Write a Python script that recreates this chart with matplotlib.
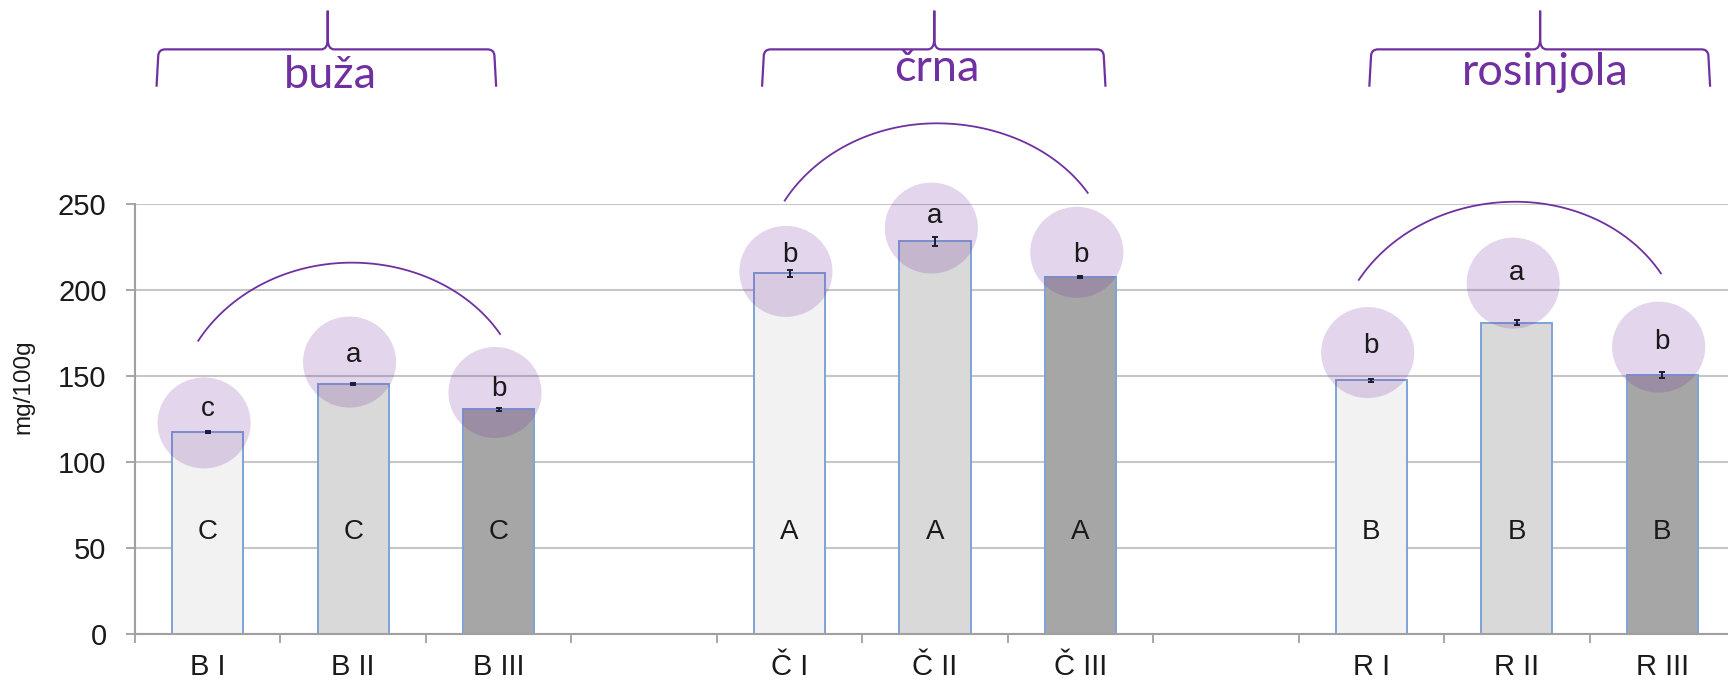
import numpy as np
import matplotlib
matplotlib.use("Agg")
import matplotlib.pyplot as plt
from matplotlib.patches import Ellipse, PathPatch
from matplotlib.path import Path

plt.rcParams["font.family"] = ["Liberation Sans", "DejaVu Sans"]

# --- data ---
groups = ["buža", "črna", "rosinjola"]
group_letters = ["C", "A", "B"]
labels = [["B I", "B II", "B III"], ["Č I", "Č II", "Č III"], ["R I", "R II", "R III"]]
values = [[117.6, 145.2, 130.6], [209.7, 228.3, 207.7], [147.5, 181.0, 150.6]]
errors = [[0.5, 0.6, 1.0], [2.0, 2.6, 0.6], [1.0, 1.5, 1.5]]
sample_letters = [["c", "a", "b"], ["b", "a", "b"], ["b", "a", "b"]]
bar_colors = ["#f2f2f2", "#d9d9d9", "#a6a6a6"]

# annotation geometry (data coords)
circle_y = [[122.7, 158.1, 140.4], [210.8, 236.0, 221.9], [163.6, 204.0, 166.8]]
letter_y = [[126.9, 158.3, 138.4], [216.5, 238.8, 216.5], [163.5, 205.8, 165.5]]
arcs = [((-0.065, 170.5), (0.99, 215.9), (2.01, 174.4)),
        ((3.967, 252.0), (5.012, 296.9), (6.05, 256.5)),
        ((7.914, 205.9), (8.99, 251.3), (9.99, 209.7))]
braces = [(-0.352, 0.825, 1.983), (3.811, 4.995, 6.172), (7.986, 9.16, 10.329)]
brace_text = [(0.845, 317.7), (5.014, 321.5), (9.197, 319.2)]

PURPLE = "#7030A0"

fig = plt.figure(figsize=(17.28, 6.82), dpi=100)
ax = fig.add_axes([135 / 1728, 48 / 682, 1600 / 1728, 430 / 682])

x_pos, x_lab = [], []
for g, labs in enumerate(labels):
    for j, lab in enumerate(labs):
        x = g * 4 + j
        x_pos.append(x)
        x_lab.append(lab)
        ax.bar(x, values[g][j], width=0.49, color=bar_colors[j],
               edgecolor="#7ea3d6", linewidth=1.4, zorder=2)
        ax.errorbar(x, values[g][j], yerr=errors[g][j], fmt="none",
                    ecolor="#1c1c30", elinewidth=1.4, capsize=2.5, capthick=1.4, zorder=5)
        ax.add_patch(Ellipse((x - 0.025, circle_y[g][j]), 0.64, 52.9, facecolor=PURPLE,
                             alpha=0.2, edgecolor="none", zorder=4, clip_on=False))
        ax.text(x, letter_y[g][j], sample_letters[g][j], ha="center", va="baseline",
                fontsize=20, color="#1a1a1a", zorder=6)
        ax.text(x, 55.5, group_letters[g], ha="center", va="baseline",
                fontsize=20, color="#1a1a1a", zorder=6)

# arcs over each group
for (lx, ly), (px, py), (rx, ry) in arcs:
    t = np.radians(np.linspace(150, 90, 60))
    a, b = (px - lx) / np.cos(np.radians(30)), 2 * (py - ly)
    xs = list(px + a * np.cos(t))
    ys = list(py - b + b * np.sin(t))
    t = np.radians(np.linspace(90, 30, 60))
    a, b = (rx - px) / np.cos(np.radians(30)), 2 * (py - ry)
    xs += list(px + a * np.cos(t))
    ys += list(py - b + b * np.sin(t))
    ax.plot(xs, ys, color=PURPLE, lw=1.3, clip_on=False, zorder=6)

# curly braces with group names
yb, yl, yt = 318.2, 339.9, 362.4
for (xl, xm, xr), name, (tx, ty) in zip(braces, groups, brace_text):
    verts = [(xl, yb), (xl + 0.012, yl - 3.5), (xl + 0.016, yl), (xl + 0.06, yl),
             (xm - 0.045, yl), (xm, yl), (xm, yl + 6), (xm, yt),
             (xm, yl + 6), (xm, yl), (xm + 0.045, yl),
             (xr - 0.06, yl), (xr - 0.016, yl), (xr - 0.012, yl - 3.5), (xr, yb)]
    codes = [Path.MOVETO, Path.LINETO, Path.CURVE3, Path.CURVE3,
             Path.LINETO, Path.CURVE3, Path.CURVE3, Path.LINETO,
             Path.LINETO, Path.CURVE3, Path.CURVE3,
             Path.LINETO, Path.CURVE3, Path.CURVE3, Path.LINETO]
    ax.add_patch(PathPatch(Path(verts, codes), facecolor="none", edgecolor=PURPLE,
                           lw=1.6, clip_on=False, zorder=6))
    ax.text(tx, ty, name, ha="center", va="baseline", fontsize=32.5, color=PURPLE,
            family=["Lato", "DejaVu Sans"], clip_on=False)

ax.set_xlim(-0.5, 10.5)
ax.set_ylim(0, 250)
ax.set_yticks(range(0, 251, 50))
ax.set_xticks(x_pos)
ax.set_xticklabels(x_lab)
ax.set_xticks(np.arange(-0.5, 11, 1), minor=True)
ax.tick_params(axis="x", which="major", length=0, pad=14, labelsize=21, labelcolor="#1a1a1a")
ax.tick_params(axis="x", which="minor", length=6.5, width=1.3, color="#a0a0a0")
ax.tick_params(axis="y", length=6.5, width=1.3, color="#a0a0a0", pad=14, labelsize=21,
               labelcolor="#1a1a1a")
ax.grid(axis="y", color="#c6c6c6", lw=1.5, zorder=0)
ax.set_axisbelow(True)
for s in ["top", "right"]:
    ax.spines[s].set_visible(False)
for s in ["left", "bottom"]:
    ax.spines[s].set_color("#a0a0a0")
    ax.spines[s].set_linewidth(1.5)

fig.text(23 / 1728, 1 - 387 / 682, "mg/100g", rotation=90, ha="center", va="center",
         fontsize=17.5, color="#1a1a1a")

fig.savefig("out.png", dpi=100)
